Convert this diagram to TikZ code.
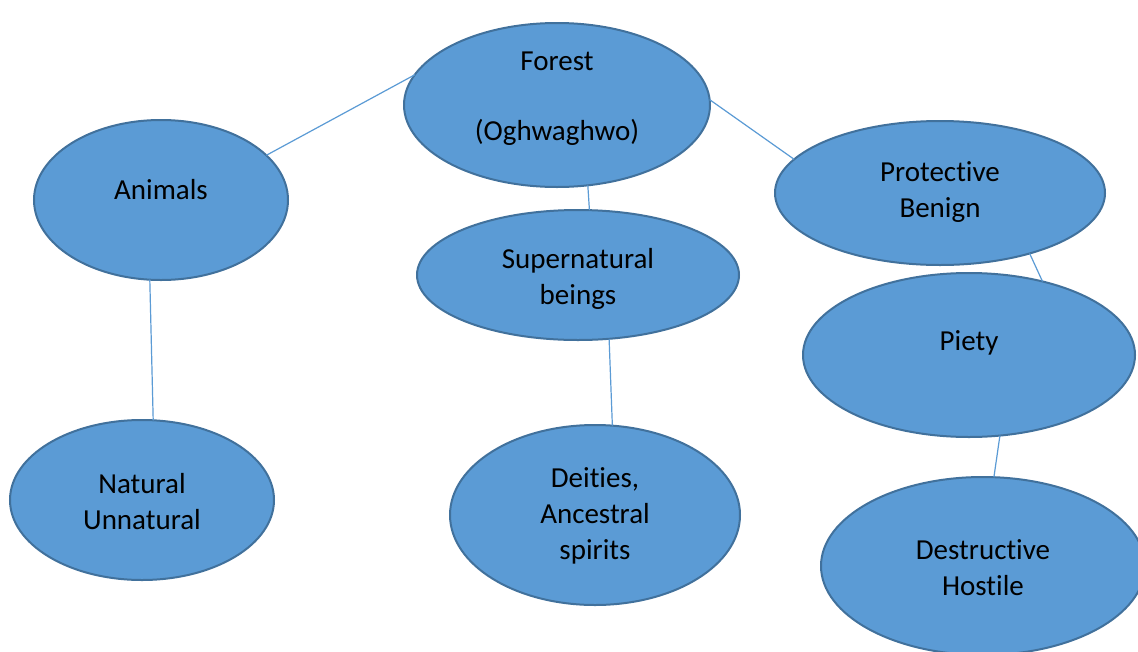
\documentclass[tikz,border=0pt]{standalone}
\usepackage{fontspec}
\setmainfont[Ligatures={NoCommon}]{Carlito}
\usetikzlibrary{shapes.geometric}
\definecolor{efill}{HTML}{5B9BD5}
\definecolor{edraw}{HTML}{41719C}
\definecolor{conn}{HTML}{5B9BD5}
\tikzset{
  bubble/.style={ellipse, draw=edraw, fill=efill, line width=2pt, inner sep=0pt, outer sep=0pt},
  lbl/.style={align=center, inner sep=0pt, font=\fontsize{29}{36}\selectfont, text=black},
  conline/.style={draw=conn, line width=1.2pt}
}
\begin{document}
\begin{tikzpicture}[x=1pt,y=-1pt]
\useasboundingbox (0,0) rectangle (1138,651);
\clip (0,0) rectangle (1138,651);
\fill[white] (0,0) rectangle (1138,651);
% ellipses
\node[bubble, minimum width=306pt, minimum height=164pt] (forest) at (557,105) {};
\node[bubble, minimum width=254pt, minimum height=160pt] (animals) at (161,200) {};
\node[bubble, minimum width=322pt, minimum height=130pt] (super) at (578,275) {};
\node[bubble, minimum width=330pt, minimum height=144pt] (protect) at (940,193) {};
\node[bubble, minimum width=332pt, minimum height=164pt] (piety) at (969,355) {};
\node[bubble, minimum width=264pt, minimum height=160pt] (natural) at (142,500) {};
\node[bubble, minimum width=290pt, minimum height=180pt] (deities) at (595,515) {};
\node[bubble, minimum width=324pt, minimum height=178pt] (destruct) at (983,566) {};
% connectors
\draw[conline] (forest.168.8) -- (animals.23.4);
\draw[conline] (forest.2.6) -- (protect.167.3);
\draw[conline] (forest.291.3) -- (super.80.4);
\draw[conline] (animals.262.9) -- (natural.82.9);
\draw[conline] (super.296.2) -- (deities.79.3);
\draw[conline] (protect.326) -- (piety.45);
\draw[conline] (piety.291.9) -- (destruct.83.5);
% labels
\node[lbl] (tforest) at (557,99) {Forest\\[34pt](Oghwaghwo)};
\node[lbl] (tanimals) at (161,190) {Animals};
\node[lbl] (tsuper) at (578,279) {Supernatural\\beings};
\node[lbl] (tprotect) at (940,192) {Protective\\Benign};
\node[lbl] (tpiety) at (969,343) {Piety};
\node[lbl] (tnatural) at (142,502) {Natural\\Unnatural};
\node[lbl] (tdeities) at (595,516) {Deities,\\Ancestral\\spirits};
\node[lbl] (tdestruct) at (983,568) {Destructive\\Hostile};
\end{tikzpicture}
\end{document}
